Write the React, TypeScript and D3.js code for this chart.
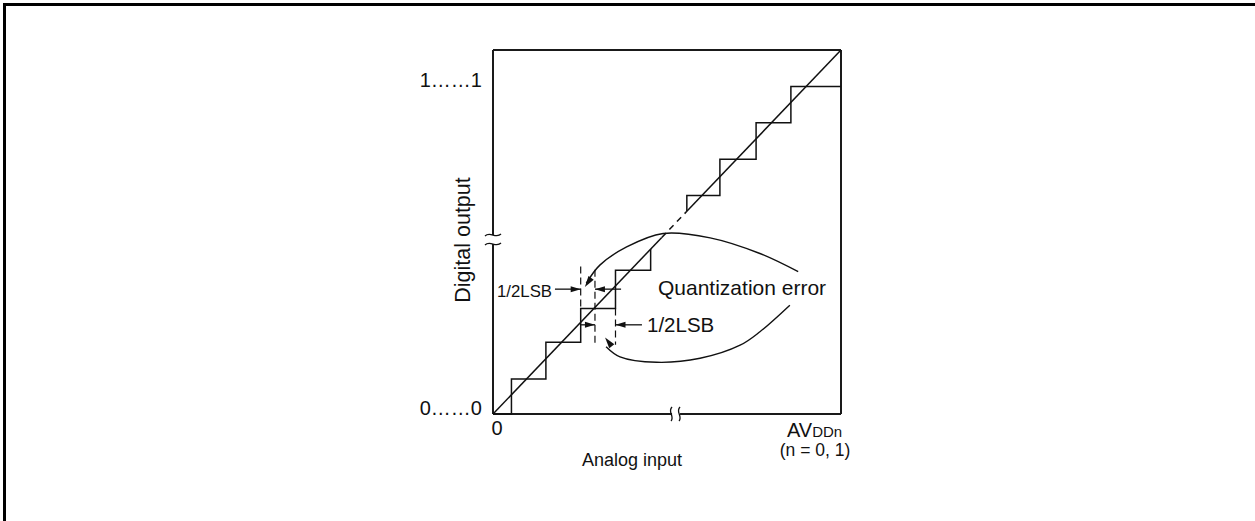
import React from "react";
import * as d3 from "d3";

// ---- data (in LSB units of the transfer characteristic) ----
const xDomain = [0, 10];
const yDomain = [0, 10];
// lower staircase: [x, y] corners
const lowerSteps: [number, number][] = [
  [0, 0], [0.53, 0], [0.53, 0.96], [1.52, 0.96], [1.52, 1.97], [2.52, 1.97],
  [2.52, 2.9], [3.52, 2.9], [3.52, 3.95], [4.53, 3.95], [4.53, 4.53],
];
// upper staircase
const upperSteps: [number, number][] = [
  [5.57, 5.57], [5.57, 6], [6.52, 6], [6.52, 7], [7.56, 7], [7.56, 8],
  [8.56, 8], [8.56, 9], [10, 9],
];
// ideal line pieces
const idealSolid1: [number, number][] = [[0, 0], [4.85, 4.85]];
const idealDashed: [number, number][] = [[4.85, 4.85], [5.57, 5.57]];
const idealSolid2: [number, number][] = [[5.57, 5.57], [10, 10]];
// dashed guide lines: [x, y0, y1]
const guides: [number, number, number][] = [
  [2.52, 2.9, 4.05],
  [2.93, 1.9, 3.96],
  [3.52, 1.9, 2.9],
];
// arcs (tip first)
const upperArc: [number, number][] = [
  [2.64, 3.49], [2.68, 3.59], [3.07, 4.09], [3.84, 4.59], [4.89, 4.96],
  [6.24, 4.84], [7.67, 4.41], [8.77, 3.91],
];
const lowerArc: [number, number][] = [
  [3.22, 2.1], [3.25, 1.85], [3.65, 1.57], [4.7, 1.42], [5.95, 1.53],
  [7.1, 1.89], [7.67, 2.26], [8.53, 2.99],
];
// 1/2LSB arrows: [fromX, tipX, y]
const lsbArrows: [number, number, number][] = [
  [1.78, 2.52, 3.43],
  [3.68, 2.93, 3.43],
  [2.52, 2.93, 2.45],
  [4.28, 3.52, 2.45],
];
const yBreak = 4.78;
const xBreak = 5.26;
const yTickLabels = [
  { v: 9, text: "1……1" },
  { v: 0, text: "0……0" },
];

const W = 1255;
const H = 521;
const INK = "#111";

export default function App() {
  const x = d3.scaleLinear().domain(xDomain).range([493, 841]);
  const y = d3.scaleLinear().domain(yDomain).range([414, 50]);
  const line = d3.line<[number, number]>().x((d) => x(d[0])).y((d) => y(d[1]));
  const arcLine = d3
    .line<[number, number]>()
    .x((d) => x(d[0]))
    .y((d) => y(d[1]))
    .curve(d3.curveCatmullRom.alpha(0.5));

  const arrowHead = (fx: number, fy: number, tx: number, ty: number, len = 9, half = 3) => {
    const dx = tx - fx;
    const dy = ty - fy;
    const L = Math.hypot(dx, dy) || 1;
    const ux = dx / L;
    const uy = dy / L;
    const bx = tx - ux * len;
    const by = ty - uy * len;
    const px = -uy * half;
    const py = ux * half;
    return `M${tx},${ty}L${bx + px},${by + py}L${bx - px},${by - py}Z`;
  };

  const x0 = x(0), x1 = x(10), y0 = y(0), y1 = y(10);
  const yb = y(yBreak);
  const xb = x(xBreak);

  return (
    <svg
      width={W}
      height={H}
      style={{ position: "absolute", left: 0, top: 0, background: "#fff" }}
      fontFamily="'Liberation Sans', Arial, Helvetica, sans-serif"
    >
      {/* outer frame (right/bottom edges lie outside view) */}
      <rect x={4.5} y={4.5} width={1270} height={540} fill="none" stroke="#000" strokeWidth={3} />

      {/* plot box */}
      <g stroke="#1a1a1a" strokeWidth={2} fill="none">
        <line x1={x0} y1={y1} x2={x1} y2={y1} />
        <line x1={x1} y1={y1} x2={x1} y2={y0} />
        <line x1={x0} y1={y1} x2={x0} y2={yb - 5} />
        <line x1={x0} y1={yb + 4} x2={x0} y2={y0} />
        <line x1={x0} y1={y0} x2={xb - 4} y2={y0} />
        <line x1={xb + 4} y1={y0} x2={x1} y2={y0} />
      </g>
      {/* break marks */}
      <g stroke={INK} strokeWidth={1.3} fill="none">
        <path d={`M${x0 - 8},${yb - 4} C${x0 - 3},${yb - 9} ${x0 + 3},${yb - 1} ${x0 + 8},${yb - 6}`} />
        <path d={`M${x0 - 8},${yb + 5} C${x0 - 3},${yb} ${x0 + 3},${yb + 8} ${x0 + 8},${yb + 3}`} />
        <path d={`M${xb - 4},${y0 - 7} C${xb - 9},${y0 - 2} ${xb - 1},${y0 + 2} ${xb - 5},${y0 + 7}`} />
        <path d={`M${xb + 4},${y0 - 7} C${xb - 1},${y0 - 2} ${xb + 7},${y0 + 2} ${xb + 3},${y0 + 7}`} />
      </g>

      {/* staircases and ideal line */}
      <g stroke={INK} strokeWidth={1.5} fill="none">
        <path d={line(lowerSteps) ?? ""} />
        <path d={line(upperSteps) ?? ""} />
        <path d={line(idealSolid1) ?? ""} />
        <path d={line(idealDashed) ?? ""} strokeDasharray="6,5" />
        <path d={line(idealSolid2) ?? ""} />
      </g>

      {/* dashed guides */}
      <g stroke={INK} strokeWidth={1.2} strokeDasharray="7,4" fill="none">
        {guides.map((g, i) => (
          <line key={i} x1={x(g[0])} x2={x(g[0])} y1={y(g[2])} y2={y(g[1])} />
        ))}
      </g>

      {/* arcs */}
      <g stroke={INK} strokeWidth={1.4} fill="none">
        <path d={arcLine(upperArc.slice(1)) ?? ""} />
        <path d={arcLine(lowerArc.slice(1)) ?? ""} />
      </g>
      <g fill={INK} stroke="none">
        <path d={arrowHead(x(upperArc[2][0]), y(upperArc[2][1]), x(upperArc[0][0]), y(upperArc[0][1]), 11, 3.2)} />
        <path d={arrowHead(x(lowerArc[2][0]), y(lowerArc[2][1]), x(lowerArc[0][0]), y(lowerArc[0][1]), 11, 3.2)} />
      </g>

      {/* 1/2LSB arrows */}
      {lsbArrows.map((a, i) => {
        const fx = x(a[0]), tx = x(a[1]), yy = y(a[2]);
        return (
          <g key={i}>
            <line x1={fx} y1={yy} x2={tx} y2={yy} stroke={INK} strokeWidth={1.3} />
            <path d={arrowHead(fx, yy, tx, yy, 10, 3)} fill={INK} />
          </g>
        );
      })}

      {/* texts */}
      <g fill={INK} fontSize={20}>
        {yTickLabels.map((t) => (
          <text key={t.text} x={482} y={y(t.v) + 1} textAnchor="end">
            {t.text}
          </text>
        ))}
        <text x={x(0) + 4} y={435} textAnchor="middle">0</text>
        <text x={787} y={437}>
          AV<tspan fontSize={15}>DDn</tspan>
        </text>
        <text x={815} y={456} textAnchor="middle" fontSize={17.5}>(n = 0, 1)</text>
        <text x={632} y={466} textAnchor="middle" fontSize={18}>Analog input</text>
        <text transform="translate(470,240) rotate(-90)" textAnchor="middle" fontSize={21.5}>
          Digital output
        </text>
        <text x={658} y={295} fontSize={21}>Quantization error</text>
        <text x={497} y={297} fontSize={17} textLength={55} lengthAdjust="spacingAndGlyphs">1/2LSB</text>
        <text x={647} y={332} fontSize={20.5}>1/2LSB</text>
      </g>
    </svg>
  );
}
